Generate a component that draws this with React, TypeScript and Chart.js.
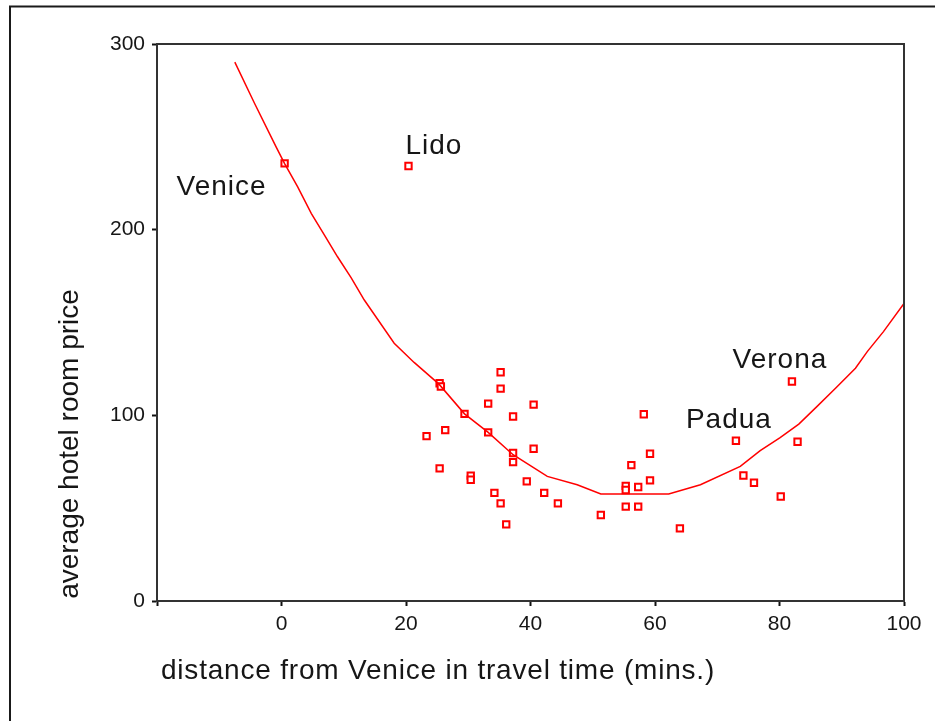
import React, { useEffect, useRef } from "react";
import { Chart, registerables } from "chart.js";

Chart.register(...registerables);

// hotel towns: distance (mins) and average room price
const hotelX = [
  0.5, 20.4,
  35.2, 35.2, 25.4, 25.6, 33.2, 40.5, 37.2, 29.4, 26.3, 23.3, 33.2, 40.5, 37.2, 37.2,
  25.4, 30.4, 30.4, 39.4, 34.2, 42.2, 35.2, 44.4, 36.1,
  82.0, 58.2, 73.0, 82.9, 59.2, 56.2, 74.2, 59.2, 75.9, 57.3, 55.3, 55.3, 80.2, 55.3,
  57.3, 51.3, 64.0,
];
const hotelY = [
  235.7, 234.3,
  123.2, 114.4, 117.3, 115.5, 106.3, 105.8, 99.4, 100.8, 92.0, 88.8, 90.8, 82.0, 79.7, 74.8,
  71.4, 67.5, 65.3, 64.4, 58.2, 58.2, 52.6, 52.6, 41.3,
  118.2, 100.6, 86.3, 85.8, 79.3, 73.2, 67.6, 65.0, 63.7, 61.4, 62.0, 59.8, 56.3, 50.8,
  50.8, 46.3, 39.1,
];

// fitted curve as drawn
const curveX = [
  -7.5, -4.3, -0.85, 0.5, 2.6, 4.8, 6.9, 9.0, 11.2, 13.3, 18.1, 21.3, 25.3,
  29.4, 33.2, 37.2, 42.7, 47.5, 51.3, 62.2, 67.3, 73.7, 76.9, 80.1, 83.1, 86.0, 89.0,
  92.2, 94.1, 96.7, 100,
];
const curveY = [
  290.2, 267.8, 244.5, 235.6, 223.0, 208.7, 197.0, 185.4, 174.0, 162.1, 138.8, 128.5, 116.8,
  100.8, 90.8, 78.8, 67.1, 62.6, 57.6, 57.6, 62.6, 72.5, 81.0, 88.0, 95.3, 104.7, 114.6,
  125.4, 134.3, 145.1, 160.3,
];

// labelled towns
const labelNames = ["Venice", "Lido", "Padua", "Verona"];
const labelX = [0.5, 20.4, 73.0, 82.0];
const labelY = [235.7, 234.3, 86.3, 118.2];

const xTitle = "distance from Venice in travel time (mins.)";
const yTitle = "average hotel room price";

const FONT = "'Liberation Sans', Arial, sans-serif";

export default function App() {
  const ref = useRef<HTMLCanvasElement | null>(null);

  useEffect(() => {
    if (!ref.current) return;
    const labelPlacement: Record<string, { dx: number; dy: number; align: CanvasTextAlign }> = {
      Venice: { dx: -18, dy: 32, align: "right" },
      Lido: { dx: -3, dy: -12, align: "left" },
      Padua: { dx: -7, dy: -13, align: "center" },
      Verona: { dx: -12, dy: -14, align: "center" },
    };

    const decor = {
      id: "decor",
      afterDraw(chart: any) {
        const { ctx, chartArea, scales } = chart;
        ctx.save();
        // outer frame (top + left)
        ctx.strokeStyle = "#1a1a1a";
        ctx.lineWidth = 2;
        ctx.beginPath();
        ctx.moveTo(10, 721);
        ctx.lineTo(10, 6.5);
        ctx.lineTo(935, 6.5);
        ctx.stroke();
        // plot frame top + right
        ctx.strokeStyle = "#333";
        ctx.beginPath();
        ctx.moveTo(chartArea.left, chartArea.top);
        ctx.lineTo(chartArea.right, chartArea.top);
        ctx.lineTo(chartArea.right, chartArea.bottom);
        ctx.stroke();

        ctx.fillStyle = "#161616";
        ctx.font = `28px ${FONT}`;
        ctx.textBaseline = "alphabetic";
        // point labels
        (ctx as any).letterSpacing = "1px";
        labelNames.forEach((name, i) => {
          const p = labelPlacement[name];
          const px = scales.x.getPixelForValue(labelX[i]);
          const py = scales.y.getPixelForValue(labelY[i]);
          ctx.textAlign = p.align;
          ctx.fillText(name, px + p.dx, py + p.dy);
        });
        // x title
        (ctx as any).letterSpacing = "0.8px";
        ctx.textAlign = "center";
        ctx.fillText(xTitle, 438, 679);
        // y title
        (ctx as any).letterSpacing = "0px";
        ctx.translate(78, 444);
        ctx.rotate(-Math.PI / 2);
        ctx.fillText(yTitle, 0, 0);
        ctx.restore();
      },
    };

    const chart = new Chart(ref.current, {
      type: "scatter",
      data: {
        datasets: [
          {
            label: "curve",
            data: curveX.map((x, i) => ({ x, y: curveY[i] })),
            showLine: true,
            borderColor: "#ff0000",
            borderWidth: 1.5,
            pointRadius: 0,
            tension: 0,
            fill: false,
          },
          {
            label: "hotels",
            data: hotelX.map((x, i) => ({ x, y: hotelY[i] })),
            pointStyle: "rect",
            pointRadius: 4.5,
            borderColor: "#ff0000",
            backgroundColor: "#ffffff",
            borderWidth: 2,
          },
        ],
      },
      options: {
        responsive: false,
        animation: false,
        layout: { padding: { left: 0, right: 31, top: 44, bottom: 0 } },
        plugins: { legend: { display: false }, tooltip: { enabled: false } },
        scales: {
          x: {
            type: "linear",
            min: -20,
            max: 100,
            afterFit: (s: any) => {
              s.height = 120;
            },
            ticks: {
              stepSize: 20,
              padding: 6,
              color: "#161616",
              font: { family: FONT, size: 21 },
              callback: (v: any) => (Number(v) < 0 ? "" : String(v)),
            },
            grid: {
              drawOnChartArea: false,
              drawTicks: true,
              tickLength: 5,
              tickWidth: 2,
              tickColor: "#111",
            },
            border: { display: true, color: "#333", width: 2 },
          },
          y: {
            type: "linear",
            min: 0,
            max: 300,
            afterFit: (s: any) => {
              s.width = 157;
            },
            ticks: {
              stepSize: 100,
              padding: 7,
              color: "#161616",
              font: { family: FONT, size: 21 },
            },
            grid: {
              drawOnChartArea: false,
              drawTicks: true,
              tickLength: 5,
              tickWidth: 2,
              tickColor: "#111",
            },
            border: { display: true, color: "#333", width: 2 },
          },
        },
      },
      plugins: [decor],
    });
    return () => chart.destroy();
  }, []);

  return (
    <canvas
      ref={ref}
      width={935}
      height={721}
      style={{ position: "absolute", left: 0, top: 0, background: "#fff" }}
    />
  );
}
